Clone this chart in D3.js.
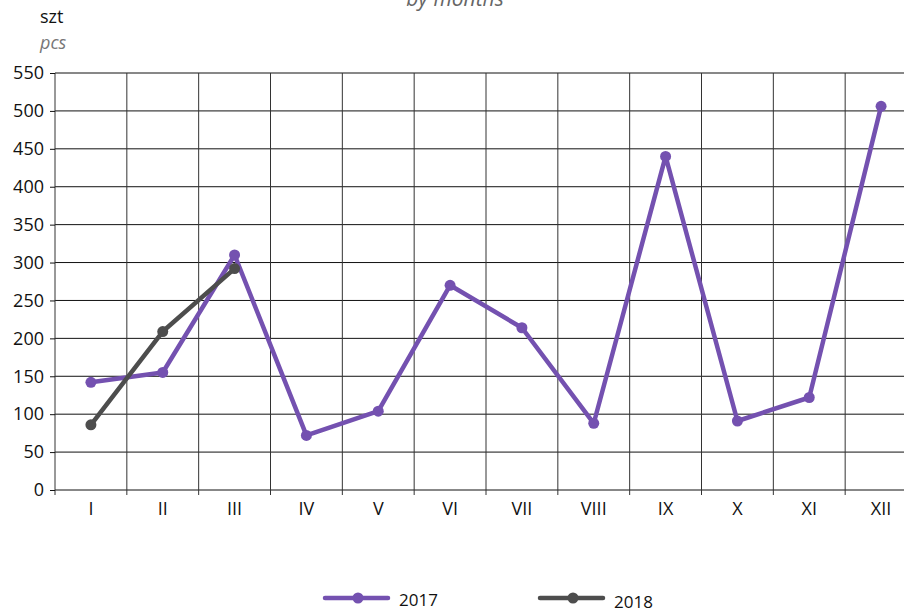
<!DOCTYPE html>
<html>
<head>
<meta charset="utf-8">
<script src="https://cdn.jsdelivr.net/npm/d3@7"></script>
<style>
  body { margin: 0; background: #fff; }
  svg { display: block; font-family: "Open Sans", "Noto Sans", sans-serif; }
</style>
</head>
<body>
<svg id="chart" width="904" height="614"></svg>
<script>
const months = ["I","II","III","IV","V","VI","VII","VIII","IX","X","XI","XII"];
const y2017 = [142, 155, 310, 72, 104, 270, 214, 88, 440, 91, 122, 506];
const y2018 = [86, 209, 292];
const yTicks = [0, 50, 100, 150, 200, 250, 300, 350, 400, 450, 500, 550];

const series = [
  {name: "2017", values: y2017, color: "#7451b0"},
  {name: "2018", values: y2018, color: "#4d4d4d"}
];

const svg = d3.select("#chart");

const x = d3.scaleBand().domain(months).range([55, 917]);
const y = d3.scaleLinear().domain([0, 550]).range([490, 73]);

// title (cut off at top, like the source)
svg.append("text")
  .attr("x", 455).attr("y", 6)
  .attr("text-anchor", "middle")
  .attr("font-style", "italic")
  .attr("font-size", 21)
  .attr("fill", "#666")
  .text("by months");

svg.append("text").attr("x", 40).attr("y", 23)
  .attr("font-size", 18).attr("font-weight", 500).attr("fill", "#111").text("szt");
svg.append("text").attr("x", 40).attr("y", 49)
  .attr("font-size", 18).attr("font-style", "italic").attr("fill", "#777").text("pcs");

// horizontal grid
svg.append("g").selectAll("line")
  .data(yTicks)
  .join("line")
  .attr("x1", 55).attr("x2", 917)
  .attr("y1", d => y(d)).attr("y2", d => y(d))
  .attr("stroke", "#111").attr("stroke-width", 1);

// vertical grid at band boundaries
const bounds = months.map(m => x(m)).concat([x(months[11]) + x.bandwidth()]);
svg.append("g").selectAll("line")
  .data(bounds)
  .join("line")
  .attr("x1", d => d).attr("x2", d => d)
  .attr("y1", y(550)).attr("y2", y(0) + 5)
  .attr("stroke", "#333").attr("stroke-width", 1);

// y axis
const yAxis = svg.append("g")
  .attr("transform", "translate(55,0)")
  .call(d3.axisLeft(y).tickValues(yTicks).tickSize(5).tickPadding(6));
yAxis.select(".domain").remove();
yAxis.selectAll("line").attr("stroke", "#111");
yAxis.selectAll("text").attr("font-size", 18).attr("font-weight", 500).attr("fill", "#111").attr("font-family", "Open Sans, sans-serif");

// x axis
const xAxis = svg.append("g")
  .attr("transform", `translate(0,${y(0)})`)
  .call(d3.axisBottom(x).tickSize(0).tickPadding(12));
xAxis.select(".domain").remove();
xAxis.selectAll("text").attr("font-size", 18).attr("font-weight", 500).attr("fill", "#111").attr("font-family", "Open Sans, sans-serif");

const line = d3.line()
  .x((d, i) => x(months[i]) + x.bandwidth() / 2)
  .y(d => y(d));

series.forEach(s => {
  const g = svg.append("g");
  g.append("path")
    .attr("d", line(s.values))
    .attr("fill", "none")
    .attr("stroke", s.color)
    .attr("stroke-width", 4.5)
    .attr("stroke-linejoin", "round");
  g.selectAll("circle")
    .data(s.values)
    .join("circle")
    .attr("cx", (d, i) => x(months[i]) + x.bandwidth() / 2)
    .attr("cy", d => y(d))
    .attr("r", 5.5)
    .attr("fill", s.color);
});

// legend
const legendPos = [{x: 325, y: 598, ty: 606}, {x: 540, y: 598, ty: 608}];
series.forEach((s, i) => {
  const p = legendPos[i];
  const g = svg.append("g");
  g.append("line")
    .attr("x1", p.x).attr("x2", p.x + 63)
    .attr("y1", p.y).attr("y2", p.y)
    .attr("stroke", s.color).attr("stroke-width", 4.5).attr("stroke-linecap", "round");
  g.append("circle").attr("cx", p.x + 33).attr("cy", p.y).attr("r", 5.5).attr("fill", s.color);
  g.append("text").attr("x", p.x + 74).attr("y", p.ty)
    .attr("font-size", 17).attr("font-weight", 500).attr("fill", "#111").text(s.name);
});
</script>
</body>
</html>
